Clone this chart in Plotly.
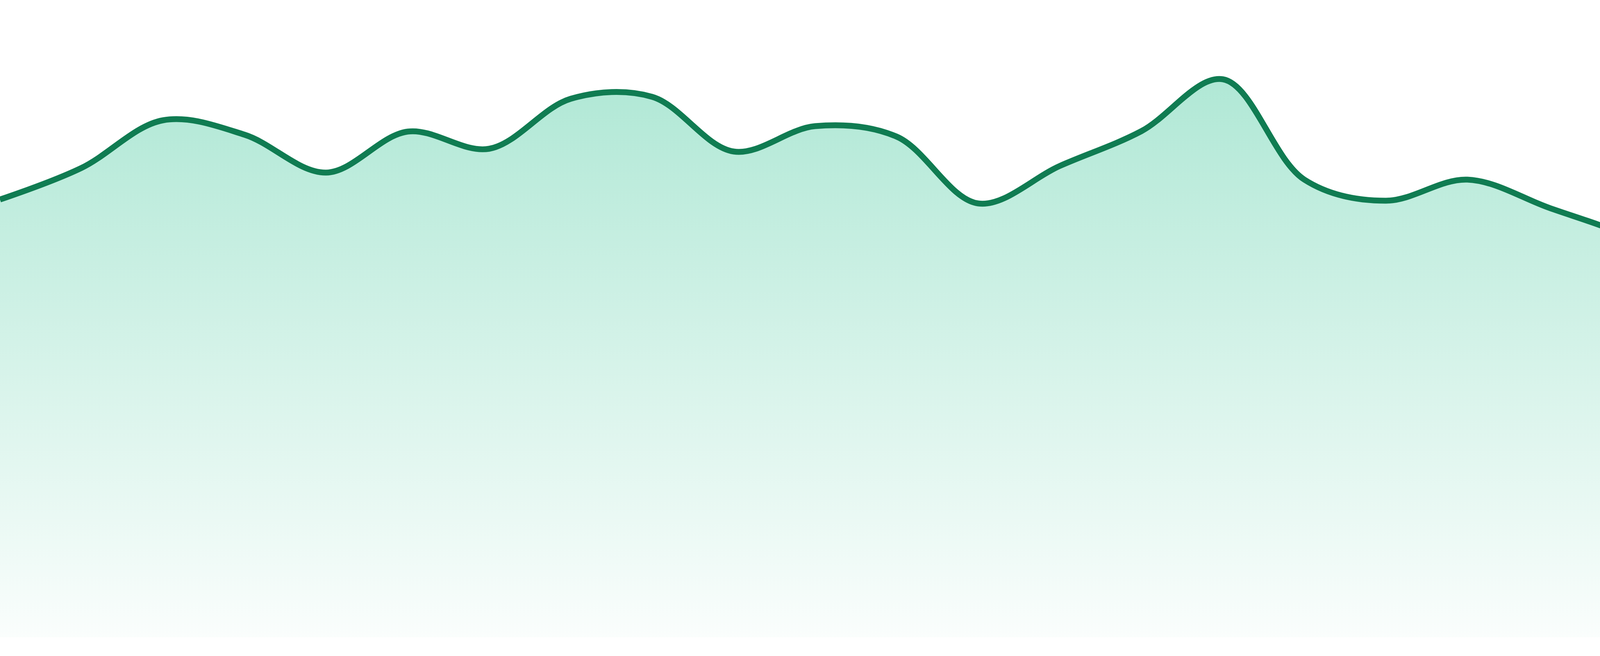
import plotly.graph_objects as go

# Data (24 evenly spaced points)
points = list(range(24))
values = [1121, 1202, 1324, 1287, 1190, 1295, 1251, 1379, 1384, 1244, 1309, 1282,
          1111, 1207, 1296, 1429, 1172, 1118, 1172, 1100, 1023, 898, 909, 844]

LINE_COLOR = "#107C52"

fig = go.Figure()
fig.add_trace(go.Scatter(
    x=points,
    y=values,
    mode="lines",
    line=dict(color=LINE_COLOR, width=15, shape="spline", smoothing=1),
    fill="tozeroy",
    fillgradient=dict(
        type="vertical",
        start=0,
        stop=max(values),
        colorscale=[[0.0, "rgba(16,185,129,0.02)"], [1.0, "rgba(16,185,129,0.33)"]],
    ),
    hoverinfo="skip",
    showlegend=False,
))

fig.update_layout(
    width=4800,
    height=1680,
    margin=dict(l=0, r=0, t=0, b=0),
    paper_bgcolor="white",
    plot_bgcolor="white",
    xaxis=dict(visible=False, range=[0, len(points) - 1], fixedrange=True),
    yaxis=dict(visible=False, range=[-48, 1632], fixedrange=True),
)

fig.write_html(
    "out.html",
    config={"displayModeBar": False, "staticPlot": True},
    post_script=(
        "document.body.style.margin='0';"
        "document.body.style.padding='0';"
        "document.documentElement.style.overflow='hidden';"
        "document.body.style.overflow='hidden';"
    ),
)
